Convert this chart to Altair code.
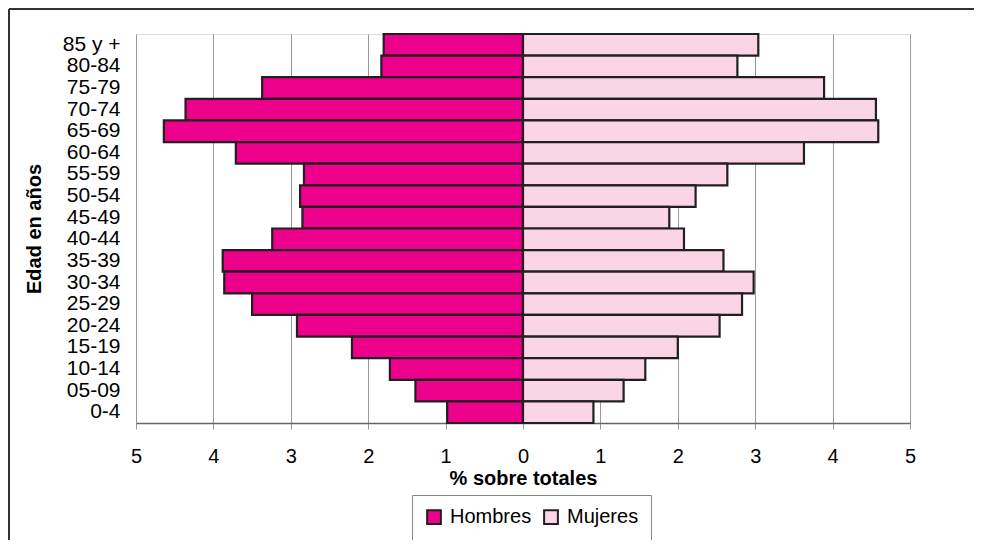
import altair as alt
import pandas as pd

ages = ["85 y +", "80-84", "75-79", "70-74", "65-69", "60-64", "55-59", "50-54",
        "45-49", "40-44", "35-39", "30-34", "25-29", "20-24", "15-19", "10-14\u2002",
        "05-09", "0-4"]
hombres = [1.80, 1.83, 3.37, 4.36, 4.64, 3.71, 2.83, 2.88, 2.85, 3.24, 3.88, 3.86,
           3.50, 2.92, 2.21, 1.72, 1.39, 0.98]
mujeres = [3.04, 2.77, 3.89, 4.56, 4.59, 3.63, 2.64, 2.23, 1.89, 2.08, 2.59, 2.98,
           2.83, 2.54, 2.00, 1.58, 1.30, 0.91]
series = ["Hombres", "Mujeres"]
colors = ["#EC008C", "#F9D5E5"]
ticks = [-5, -4, -3, -2, -1, 0, 1, 2, 3, 4, 5]

rows = []
for a, h, m in zip(ages, hombres, mujeres):
    rows.append({"edad": a, "sexo": "Hombres", "valor": -h})
    rows.append({"edad": a, "sexo": "Mujeres", "valor": m})
df = pd.DataFrame(rows)

FONT = "Liberation Sans"
W, H = 774, 389

bars = alt.Chart(df).mark_bar(stroke="#231f20", strokeWidth=2.2).encode(
    y=alt.Y("edad:N", sort=ages, title="Edad en años",
            scale=alt.Scale(paddingInner=0, paddingOuter=0),
            axis=alt.Axis(ticks=False, domain=False, grid=False, labelPadding=16,
                          labelFontSize=21, labelFont=FONT, labelColor="#000",
                          titleFontSize=20, titleFont=FONT, titleFontWeight="bold",
                          titleColor="#000", titlePadding=18)),
    x=alt.X("valor:Q", title="% sobre totales",
            scale=alt.Scale(domain=[-5, 5], nice=False),
            axis=alt.Axis(values=ticks, labelExpr="abs(datum.value)",
                          labelFlush=False,
                          grid=True, gridColor="#999", gridWidth=1,
                          domainColor="#666", domainWidth=1.5,
                          tickColor="#999", tickSize=6, tickWidth=1,
                          labelPadding=17, labelFontSize=20, labelFont=FONT,
                          labelColor="#000", titleFontSize=20, titleFont=FONT,
                          titleFontWeight="bold", titleColor="#000", titlePadding=2)),
    color=alt.Color("sexo:N", scale=alt.Scale(domain=series, range=colors),
                    legend=alt.Legend(title=None, orient="none", direction="horizontal",
                                      legendX=276, legendY=461,
                                      symbolType="square", symbolSize=190,
                                      symbolStrokeColor="#231f20", symbolStrokeWidth=2,
                                      symbolOpacity=1,
                                      labelFontSize=20, labelFont=FONT, labelColor="#000",
                                      labelOffset=6, columnPadding=8,
                                      strokeColor="#888", padding=12,
                                      fillColor="#fff")),
)

frame_df = pd.DataFrame({"k": [0]})
frame_top = alt.Chart(frame_df).mark_rule(color="#333", strokeWidth=2).encode(
    x=alt.value(-127), x2=alt.value(W + 64), y=alt.value(-25))
frame_left = alt.Chart(frame_df).mark_rule(color="#333", strokeWidth=2).encode(
    x=alt.value(-127), y=alt.value(-25), y2=alt.value(H + 117))

chart = alt.layer(bars, frame_top, frame_left).properties(
    width=W, height=H,
    autosize=alt.AutoSizeParams(type="none"),
    padding={"left": 128, "top": 26, "right": 64, "bottom": 117},
).configure_view(stroke="#999", strokeWidth=1.5).configure(background="#ffffff")

chart.save("out.html", embed_options={"renderer": "svg", "actions": False})
